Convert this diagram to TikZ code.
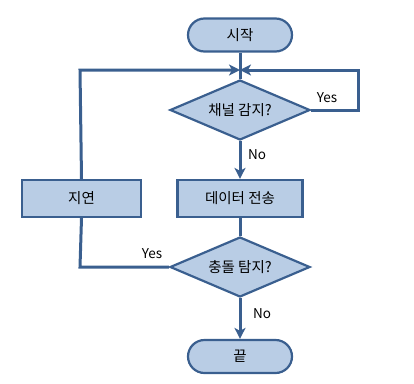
\documentclass[tikz,border=0pt]{standalone}
\usepackage{fontspec}
\setmainfont{Noto Sans CJK KR}
\usetikzlibrary{shapes.geometric,arrows.meta}
\definecolor{fillc}{HTML}{B9CDE5}
\definecolor{linec}{HTML}{3A5F8F}
\begin{document}
\begin{tikzpicture}[x=1pt,y=-1pt,
  every node/.style={font=\fontsize{14.5}{16}\selectfont, text=black},
  term/.style={draw=linec, fill=fillc, line width=2.2pt, rounded corners=16.5pt, minimum width=104pt, minimum height=33pt, inner sep=0pt},
  procbox/.style={draw=linec, fill=fillc, line width=2.2pt, minimum height=37pt, inner sep=0pt},
  decide/.style={draw=linec, fill=fillc, line width=2.2pt, diamond, aspect=2.333, minimum width=140pt, minimum height=60pt, inner sep=0pt},
  conn/.style={draw=linec, line width=3pt},
  arr/.style={conn, -{Stealth[length=11pt,width=11pt,inset=3pt]}},
  lbl/.style={font=\fontsize{13.5}{15}\selectfont}
]
\useasboundingbox (0,0) rectangle (414,383);
\node[term] (start) at (240,35) {시작};
\node[decide] (sense) at (240,110) {채널 감지?};
\node[procbox, minimum width=125pt] (send) at (240,198.5) {데이터 전송};
\node[procbox, minimum width=119pt] (delay) at (81.5,198.5) {지연};
\node[decide] (coll) at (240,267) {충돌 탐지?};
\node[term] (end) at (240,356.5) {끝};
\coordinate (merge) at (240,70);
\coordinate (rtop) at (358,70);
\coordinate (rbot) at (358,110);
\coordinate (ltop) at (80,70);
\coordinate (lbot) at (80,265);

\draw[conn] (start.south) -- (sense.north);
\draw[arr] (sense.east) -- (rbot) -- (rtop) -- (merge);
\draw[arr] (delay.north) -- (ltop) -- (merge);
\draw[arr] (sense.south) -- (send.north);
\draw[conn] (send.south) -- (coll.north);
\draw[conn] (coll.west) -- (coll.west -| lbot) -- (delay.south);
\draw[arr] (coll.south) -- (end.north);

\node[lbl] (yes1) at (327,98) {Yes};
\node[lbl] (no1) at (257,155) {No};
\node[lbl] (yes2) at (152,254) {Yes};
\node[lbl] (no2) at (262,314) {No};
\end{tikzpicture}
\end{document}
